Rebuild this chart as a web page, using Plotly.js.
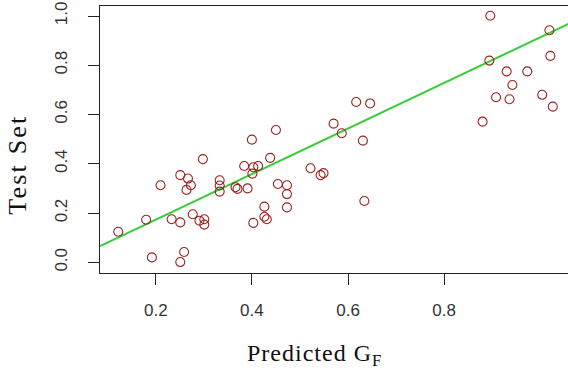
<!DOCTYPE html>
<html>
<head>
<meta charset="utf-8">
<script src="https://cdn.plot.ly/plotly-3.0.1.min.js"></script>
<style>
html, body { margin: 0; padding: 0; overflow: hidden; background: #fff; }
#chart { width: 572px; height: 372px; }
g.annotation[data-index="0"] text { letter-spacing: 1px; }
g.annotation[data-index="1"] text { letter-spacing: 2.2px; }
</style>
</head>
<body>
<div id="chart"></div>
<script>
// Predicted G_F (x) vs Test Set (y)
const predicted = [
  0.122, 0.180, 0.192, 0.210, 0.233, 0.251, 0.251, 0.267, 0.273, 0.264,
  0.251, 0.259, 0.277, 0.291, 0.301, 0.301, 0.298, 0.333, 0.333, 0.333,
  0.366, 0.370, 0.391, 0.400, 0.450, 0.384, 0.403, 0.413, 0.401, 0.438,
  0.454, 0.473, 0.473, 0.426, 0.426, 0.431, 0.473, 0.403, 0.522, 0.543,
  0.549, 0.617, 0.646, 0.570, 0.587, 0.631, 0.634, 0.896, 1.019, 0.894,
  1.021, 0.930, 0.973, 0.942, 0.908, 0.936, 1.004, 1.026, 0.880
];
const testSet = [
  0.124, 0.173, 0.020, 0.313, 0.175, 0.162, 0.354, 0.340, 0.313, 0.294,
  0.001, 0.042, 0.195, 0.169, 0.175, 0.153, 0.419, 0.333, 0.312, 0.287,
  0.305, 0.298, 0.300, 0.498, 0.537, 0.391, 0.386, 0.391, 0.360, 0.424,
  0.318, 0.313, 0.277, 0.226, 0.185, 0.175, 0.223, 0.160, 0.382, 0.354,
  0.362, 0.651, 0.645, 0.563, 0.524, 0.494, 0.249, 1.001, 0.942, 0.819,
  0.838, 0.775, 0.775, 0.720, 0.670, 0.662, 0.680, 0.632, 0.571
];
const fitSlope = 0.925;
const fitIntercept = -0.0117;
const xTickVals = [0.2, 0.4, 0.6, 0.8];
const yTickVals = [0.0, 0.2, 0.4, 0.6, 0.8, 1.0];
const xTitle = 'Predicted G<sub>F</sub>';
const yTitle = 'Test Set';
const xRange = [0.084, 1.066];
const yRange = [-0.0434, 1.0406];

const fitX = xRange.slice();
const fitY = fitX.map(v => fitSlope * v + fitIntercept);

const traces = [
  {
    x: fitX, y: fitY, type: 'scatter', mode: 'lines',
    line: { color: '#3acc3a', width: 2 },
    hoverinfo: 'skip', showlegend: false, cliponaxis: true
  },
  {
    x: predicted, y: testSet, type: 'scatter', mode: 'markers',
    marker: { symbol: 'circle-open', size: 9, color: '#9b2323', line: { width: 1.1, color: '#9b2323' } },
    showlegend: false, cliponaxis: true
  }
];

const tickFont = { family: 'Liberation Sans, Arial, sans-serif', size: 17, color: '#333' };
const serif = 'Liberation Serif, Times New Roman, serif';

const layout = {
  width: 572, height: 372,
  margin: { l: 100, r: 0, t: 6, b: 99, pad: 0 },
  paper_bgcolor: '#fff', plot_bgcolor: '#fff',
  showlegend: false,
  xaxis: {
    range: xRange, tickvals: xTickVals, tickformat: '.1f',
    ticks: 'outside', ticklen: 11, tickwidth: 1, tickcolor: '#222',
    showline: true, linecolor: '#222', linewidth: 1.2, mirror: true,
    showgrid: false, zeroline: false,
    tickfont: tickFont, ticklabelstandoff: 10,
    automargin: false
  },
  yaxis: {
    range: yRange, tickvals: yTickVals, tickformat: '.1f', tickangle: -90,
    ticks: 'outside', ticklen: 11, tickwidth: 1, tickcolor: '#222',
    showline: true, linecolor: '#222', linewidth: 1.2, mirror: true,
    showgrid: false, zeroline: false,
    tickfont: tickFont, ticklabelstandoff: 14,
    automargin: false
  },
  annotations: [
    {
      text: xTitle, xref: 'paper', yref: 'paper',
      x: 0.4534, y: -0.307, xanchor: 'center', yanchor: 'middle',
      showarrow: false, font: { family: serif, size: 24, color: '#111' }
    },
    {
      text: yTitle, xref: 'paper', yref: 'paper', textangle: -90,
      x: -0.1737, y: 0.4045, xanchor: 'center', yanchor: 'middle',
      showarrow: false, font: { family: serif, size: 26, color: '#111' }
    }
  ]
};

Plotly.newPlot('chart', traces, layout, { staticPlot: true, displayModeBar: false });
</script>
</body>
</html>
